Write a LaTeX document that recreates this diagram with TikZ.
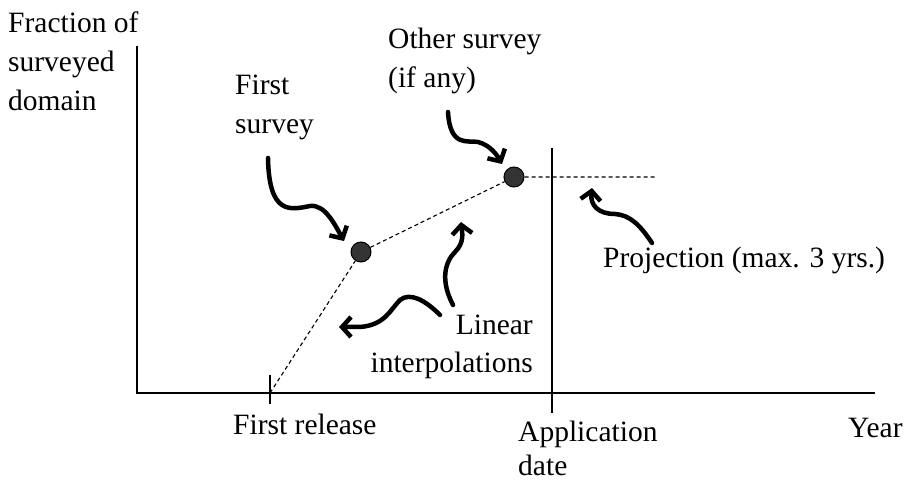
\documentclass[tikz,border=0pt]{standalone}
\usepackage{fontspec}
\setmainfont{Liberation Serif}
\usetikzlibrary{arrows.meta}
\begin{document}
\begin{tikzpicture}[x=1pt,y=-1pt,
  axis/.style={line width=2.2pt},
  dashline/.style={line width=1.1pt,dash pattern=on 4pt off 3pt},
  dot/.style={circle,fill=black!80,draw=black,line width=1pt,minimum size=20pt,inner sep=0pt},
  curly/.style={line width=4.5pt,line cap=round,-{Straight Barb[length=9pt,width=20pt,line width=4.5pt]}},
  lbl/.style={font=\fontsize{29.5}{39}\selectfont,inner sep=0pt,anchor=base west}]
\useasboundingbox (0,0) rectangle (906,481);
% axes
\coordinate (ytop) at (137,46);
\coordinate (origin) at (137,393);
\coordinate (xend) at (875,393);
\draw[axis] (ytop) -- (origin) -- (xend);
\coordinate (frt) at (270,375);
\coordinate (frb) at (270,404);
\draw[axis] (frt) -- (frb);
\coordinate (apt) at (552,148);
\coordinate (apb) at (552,413);
\draw[axis] (apt) -- (apb);
% points
\coordinate (fr) at (270,393);
\node[dot] (p1) at (361,252) {};
\node[dot] (p2) at (514,177) {};
\coordinate (proj) at (655,177);
\draw[dashline] (fr) -- (p1) -- (p2) -- (proj);
% labels
\node[lbl] (ylab1) at (8,33) {Fraction of};
\node[lbl] (ylab2) at (8,72) {surveyed};
\node[lbl] (ylab3) at (8,111) {domain};
\node[lbl] (first1) at (235,95) {First};
\node[lbl] (first2) at (235,134) {survey};
\node[lbl] (other1) at (388,49) {Other survey};
\node[lbl] (other2) at (388,88) {(if any)};
\node[lbl] (projl) at (603,268) {Projection (max. 3 yrs.)};
\node[lbl,anchor=base east] (lin1) at (533,335) {Linear};
\node[lbl,anchor=base east] (lin2) at (533,373) {interpolations};
\node[lbl] (frl) at (233,435) {First release};
\node[lbl] (appl1) at (518,442) {Application};
\node[lbl] (appl2) at (518,475) {date};
\node[lbl] (year) at (848,437) {Year};
% curly arrows
\coordinate (a1s) at (268,158);
\coordinate (a2s) at (448,112);
\coordinate (a3s) at (652,243);
\coordinate (a4s) at (453,305);
\coordinate (a5s) at (440,315);
\draw[curly] (a1s) .. controls (269,215) and (290,210) .. (310,206)
  .. controls (325,204) and (335,225) .. (344,241);
\draw[curly] (a2s) .. controls (450,148) and (468,140) .. (478,142)
  .. controls (490,145) and (497,155) .. (502,164);
\draw[curly] (a3s) .. controls (640,225) and (630,215) .. (615,214)
  .. controls (598,214) and (590,205) .. (592,188);
\draw[curly] (a4s) .. controls (440,280) and (445,262) .. (455,252)
  .. controls (465,242) and (462,232) .. (461,222);
\draw[curly] (a5s) .. controls (425,300) and (410,292) .. (400,300)
  .. controls (390,310) and (385,325) .. (360,327)
  -- (339,327);
\end{tikzpicture}
\end{document}
